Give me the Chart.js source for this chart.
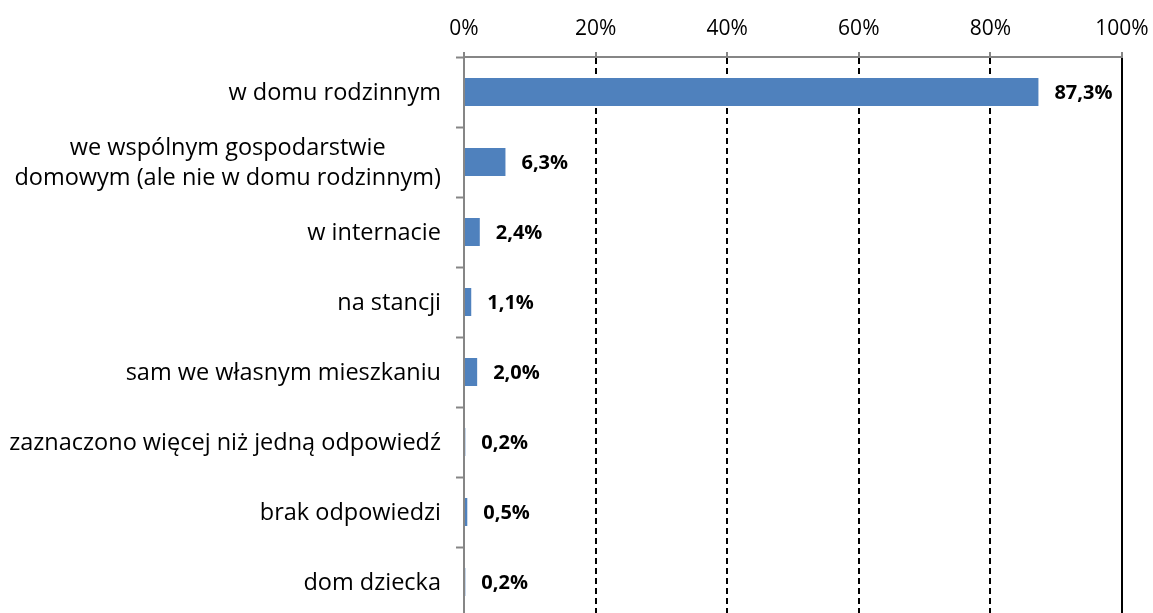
<!DOCTYPE html>
<html>
<head>
<meta charset="utf-8">
<script src="https://cdn.jsdelivr.net/npm/chart.js@4.4.0/dist/chart.umd.min.js"></script>
<style>
  html, body { margin: 0; padding: 0; background: #fff; overflow: hidden; }
  #wrap { width: 1153px; height: 620px; position: relative; }
</style>
</head>
<body>
<div id="wrap"><canvas id="chart"></canvas></div>
<script>
const categories = [
    ['w domu rodzinnym'],
    ['we wspólnym gospodarstwie', 'domowym (ale nie w domu rodzinnym)'],
    ['w internacie'],
    ['na stancji'],
    ['sam we własnym mieszkaniu'],
    ['zaznaczono więcej niż jedną odpowiedź'],
    ['brak odpowiedzi'],
    ['dom dziecka']
];
const values = [87.3, 6.3, 2.4, 1.1, 2.0, 0.2, 0.5, 0.2];
const xTicks = [0, 20, 40, 60, 80, 100];

const FONT_FAMILY = '"Open Sans", Lato, sans-serif';
const BLUE = '#4f81bd';
const AXIS_GRAY = '#868686';

const fmt = (v) => v.toFixed(1).replace('.', ',') + '%';

// category labels, drawn by hand so a two-line label is centred on itself
const yLabels = {
    id: 'yLabels',
    afterDraw(chart) {
        const { ctx, scales: { y } } = chart;
        ctx.save();
        ctx.font = `23.5px ${FONT_FAMILY}`;
        ctx.fillStyle = '#000';
        ctx.textBaseline = 'middle';
        const right = y.right - 23;
        const lh = 30;
        categories.forEach((lines, i) => {
            const cy = y.getPixelForValue(i) + 1;
            const w = Math.max(...lines.map(l => ctx.measureText(l).width));
            const top = cy - (lines.length - 1) * lh / 2;
            lines.forEach((l, j) => {
                if (lines.length > 1) {
                    ctx.textAlign = 'center';
                    ctx.fillText(l, right - w / 2, top + j * lh);
                } else {
                    ctx.textAlign = 'right';
                    ctx.fillText(l, right, top);
                }
            });
        });
        ctx.restore();
    }
};

const valueLabels = {
    id: 'valueLabels',
    afterDatasetsDraw(chart) {
        const { ctx } = chart;
        const meta = chart.getDatasetMeta(0);
        ctx.save();
        ctx.font = `bold 20px ${FONT_FAMILY}`;
        ctx.fillStyle = '#000';
        ctx.textBaseline = 'middle';
        ctx.textAlign = 'left';
        meta.data.forEach((bar, i) => {
            ctx.fillText(fmt(values[i]), bar.x + 16, bar.y + 1);
        });
        ctx.restore();
    }
};

new Chart(document.getElementById('chart'), {
    type: 'bar',
    data: {
        labels: categories.map(c => c.join(' ')),
        datasets: [{ data: values, backgroundColor: BLUE, borderWidth: 0, barPercentage: 0.4, categoryPercentage: 1 }]
    },
    options: {
        indexAxis: 'y',
        responsive: true,
        maintainAspectRatio: false,
        animation: false,
        layout: { padding: { left: 0, right: 31, top: 0, bottom: 3 } },
        plugins: { legend: { display: false }, tooltip: { enabled: false } },
        scales: {
            x: {
                position: 'top',
                min: 0,
                max: 100,
                afterFit: (s) => { s.height = 57; s.paddingLeft = 0; s.paddingRight = 0; },
                afterBuildTicks: (s) => { s.ticks = xTicks.map(v => ({ value: v })); },
                ticks: {
                    padding: 10,
                    color: '#000',
                    font: { family: FONT_FAMILY, size: 21 },
                    callback: (v) => v + '%'
                },
                grid: {
                    color: (c) => c.tick && c.tick.value === 0 ? 'rgba(0,0,0,0)' : '#000',
                    lineWidth: 2,
                    tickColor: AXIS_GRAY,
                    tickLength: 5,
                    tickWidth: 2
                },
                border: {
                    color: AXIS_GRAY,
                    width: 2,
                    dash: (c) => c.tick && c.tick.value === 100 ? [] : [6, 4]
                }
            },
            y: {
                afterFit: (s) => { s.width = 464; },
                ticks: { display: false },
                grid: {
                    offset: true,
                    drawOnChartArea: false,
                    tickColor: AXIS_GRAY,
                    tickLength: 8,
                    tickWidth: 2
                },
                border: { color: AXIS_GRAY, width: 2 }
            }
        }
    },
    plugins: [yLabels, valueLabels]
});
</script>
</body>
</html>
